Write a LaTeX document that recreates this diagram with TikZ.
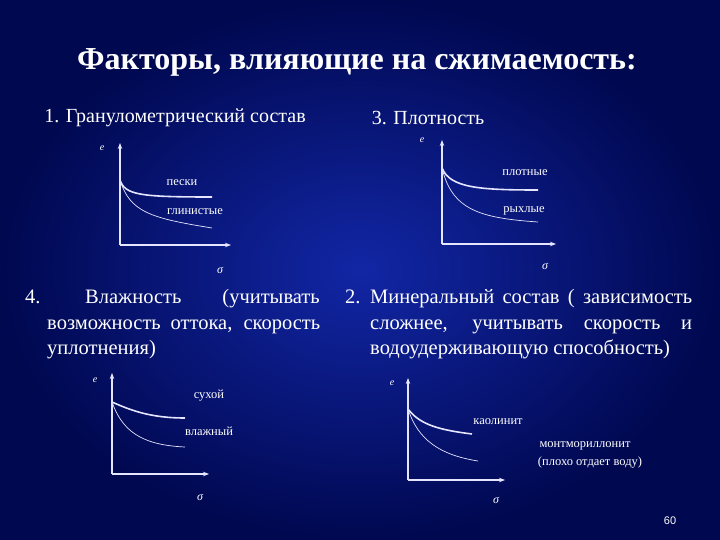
\documentclass[tikz,border=0pt]{standalone}
\usepackage{fontspec}
\usetikzlibrary{arrows.meta}
\setmainfont{Liberation Serif}
\newfontfamily\sansf{Liberation Sans}
\begin{document}
\begin{tikzpicture}[x=1pt,y=-1pt,
 ax/.style={white!90!blue,line width=1.4pt,-{Stealth[length=6pt]}},
 thick curve/.style={white!90!blue,line width=1.6pt},
 thin curve/.style={white!90!blue,line width=0.7pt},
 lab/.style={text=white,font=\fontsize{12.5}{14}\selectfont,inner sep=0pt},
 big/.style={text=white,font=\fontsize{20.5}{24}\selectfont,inner sep=0pt,anchor=base west}]
\useasboundingbox (0,0) rectangle (720,540);
\shade[inner color={rgb,255:red,18;green,38;blue,165},outer color={rgb,255:red,0;green,8;blue,80}] (0,0) rectangle (720,540);
\node[text=white,font=\bfseries\fontsize{32}{36}\selectfont] (title) at (357,62) {Факторы, влияющие на сжимаемость:};
\node[text=white,font=\fontsize{20}{24}\selectfont] (h1) at (175,118) {1. Гранулометрический состав};
\node[text=white,font=\fontsize{20}{24}\selectfont] (h3) at (428,118) {3. Плотность};
% graph 1
\coordinate (o1) at (120,245); \coordinate (t1) at (120,143); \coordinate (x1) at (231,245);
\draw[ax] (o1)--(t1); \draw[ax] (o1)--(x1);
\node[lab,font=\itshape\fontsize{10}{10}\selectfont] (e1) at (102,148) {e};
\node[lab,font=\itshape\fontsize{12}{12}\selectfont] (s1) at (220,270) {σ};
\coordinate (c1) at (120,180); \coordinate (p1) at (212,197); \coordinate (g1) at (212,228);
\draw[thick curve] (c1) .. controls (125,195) and (140,197) .. (p1);
\draw[thin curve] (c1) .. controls (130,212) and (150,218) .. (g1);
\node[lab] (l1a) at (182,183) {пески};
\node[lab] (l1b) at (195,212) {глинистые};
% graph 2
\coordinate (o2) at (442,244); \coordinate (t2) at (442,140); \coordinate (x2) at (556,244);
\draw[ax] (o2)--(t2); \draw[ax] (o2)--(x2);
\node[lab,font=\itshape\fontsize{10}{10}\selectfont] (e2) at (422,140) {e};
\node[lab,font=\itshape\fontsize{12}{12}\selectfont] (s2) at (545,266) {σ};
\coordinate (c2) at (442,168); \coordinate (p2) at (538,190); \coordinate (g2) at (538,222);
\draw[thick curve] (c2) .. controls (450,188) and (480,190) .. (p2);
\draw[thin curve] (c2) .. controls (452,210) and (480,218) .. (g2);
\node[lab] (l2a) at (525,173) {плотные};
\node[lab] (l2b) at (524,211) {рыхлые};
% paragraphs
\node[big] (p4n) at (25,303) {4.};
\node[big] (p4a) at (85,303) {Влажность};
\node[big,anchor=base east] (p4b) at (320,303) {(учитывать};
\node[big] (p4c) at (47,329) {\makebox[273pt][s]{возможность оттока, скорость}};
\node[big] (p4d) at (47,354) {уплотнения)};
\node[big] (p2n) at (345,303) {2.};
\node[big] (p2a) at (370,303) {\makebox[322pt][s]{Минеральный состав ( зависимость}};
\node[big] (p2b) at (370,329) {\makebox[322pt][s]{сложнее, учитывать скорость и}};
\node[big] (p2c) at (370,354) {водоудерживающую способность)};
% graph 3
\coordinate (o3) at (112,474); \coordinate (t3) at (112,373); \coordinate (x3) at (209,474);
\draw[ax] (o3)--(t3); \draw[ax] (o3)--(x3);
\node[lab,font=\itshape\fontsize{10}{10}\selectfont] (e3) at (95,380) {e};
\node[lab,font=\itshape\fontsize{12}{12}\selectfont] (s3) at (200,497) {σ};
\coordinate (c3) at (112,402); \coordinate (p3) at (185,418); \coordinate (g3) at (185,447);
\draw[thick curve] (c3) .. controls (130,410) and (150,418) .. (p3);
\draw[thin curve] (c3) .. controls (122,430) and (140,445) .. (g3);
\node[lab] (l3a) at (209,396) {сухой};
\node[lab] (l3b) at (209,431) {влажный};
% graph 4
\coordinate (o4) at (408,480); \coordinate (t4) at (408,378); \coordinate (x4) at (505,480);
\draw[ax] (o4)--(t4); \draw[ax] (o4)--(x4);
\node[lab,font=\itshape\fontsize{10}{10}\selectfont] (e4) at (392,383) {e};
\node[lab,font=\itshape\fontsize{12}{12}\selectfont] (s4) at (496,500) {σ};
\coordinate (c4) at (408,409); \coordinate (p4) at (472,434); \coordinate (g4) at (478,461);
\draw[thick curve] (c4) .. controls (420,425) and (440,430) .. (p4);
\draw[thin curve] (c4) .. controls (418,440) and (440,455) .. (g4);
\node[lab] (l4a) at (498,422) {каолинит};
\node[lab] (l4b) at (585,446) {монтмориллонит};
\node[lab] (l4c) at (590,463) {(плохо отдает воду)};
\node[text=white,font=\sansf\fontsize{11}{12}\selectfont] (num) at (670,521) {60};
\end{tikzpicture}
\end{document}
